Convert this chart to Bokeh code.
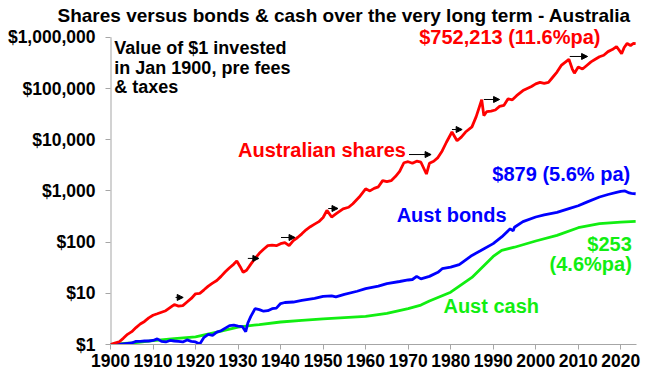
from bokeh.plotting import figure
from bokeh.models import (ColumnDataSource, Label, Arrow, NormalHead, FixedTicker,
                          NumeralTickFormatter, Range1d)
from bokeh.embed import file_html
from bokeh.resources import INLINE

# ---------------- data ----------------
share_years = [1900, 1901, 1902, 1903, 1904, 1905, 1906, 1907, 1908, 1909, 1910, 1911, 1912, 1913,
               1914, 1915, 1916, 1917, 1918, 1919, 1920, 1921, 1922, 1923, 1924, 1925, 1926, 1927,
               1928, 1929, 1929.7, 1930.5, 1931.2, 1932, 1933, 1934, 1935, 1936, 1937, 1938, 1939,
               1940, 1941, 1942, 1942.5, 1943, 1944, 1945, 1946, 1947, 1948, 1949, 1950, 1950.9,
               1952, 1953, 1954.7, 1956, 1957, 1958.5, 1960, 1961, 1962, 1963, 1964, 1965, 1966,
               1967, 1968, 1969, 1970, 1971, 1972, 1973, 1974.3, 1975, 1976, 1977, 1978, 1979,
               1980.3, 1981.5, 1982.5, 1983.5, 1985, 1986, 1987.3, 1987.8, 1988.5, 1989.5, 1990.5,
               1991.5, 1992.5, 1993.5, 1994.5, 1995.5, 1997, 1998, 1999, 2000, 2001, 2002, 2003,
               2004, 2005, 2006, 2007.8, 2008.6, 2009.1, 2010, 2011, 2012, 2013, 2014, 2015, 2016,
               2017, 2018, 2019, 2020.2, 2020.8, 2021.5, 2022.3, 2023, 2023.5]
share_values = [1.0, 1.07, 1.12, 1.32, 1.58, 1.78, 2.14, 2.51, 2.82, 3.31, 3.72, 3.98, 4.27, 4.57,
                5.25, 6.03, 5.62, 5.75, 6.76, 7.94, 9.77, 10.0, 11.7, 13.8, 15.8, 17.8, 21.4, 26.3,
                31.6, 37.2, 42.7, 33.1, 25.7, 28.2, 37.2, 47.9, 60.3, 72.4, 85.1, 87.1, 85.1,
                93.3, 97.7, 85.1, 95.5, 107, 123, 145, 174, 200, 224, 251, 302, 417,
                309, 355, 447, 479, 562, 759, 1096, 1000, 1122, 1202, 1585, 1514, 1585,
                1905, 2399, 3548, 3715, 3467, 3802, 3631, 2138, 3467, 3802, 4467, 6026, 8913,
                14125, 9550, 11220, 14125, 17783, 28184, 60256, 29512, 35481, 36308, 38019,
                44668, 46774, 63096, 60256, 72444, 91201, 100000, 109648, 123027, 131826, 125893, 131826,
                165959, 208930, 281838, 371535, 239883, 199526, 263027, 239883, 281838, 331131, 371535,
                416869, 446684, 524807, 575440, 660693, 478630, 630957, 758578, 691831, 758578, 752213]

bond_years = [1900, 1902, 1904, 1905, 1906, 1907, 1908, 1909, 1910, 1911, 1912, 1913, 1914, 1915,
              1916, 1917, 1918, 1919, 1920, 1921, 1922, 1923, 1924, 1925, 1926, 1927, 1928, 1929,
              1930, 1931, 1931.8, 1932.3, 1933, 1934, 1935, 1936, 1937, 1938, 1939, 1940, 1941,
              1943, 1945, 1948, 1950, 1952, 1953, 1955, 1958, 1960, 1963, 1965, 1968, 1970, 1971,
              1972, 1973, 1975, 1977, 1978, 1980, 1982, 1983, 1985, 1987, 1990, 1992, 1994, 1994.7,
              1995, 1997, 2000, 2002, 2005, 2008, 2010, 2012, 2015, 2017, 2019, 2020, 2021, 2022,
              2022.5, 2023.5]
bond_values = [1.0, 1.0, 1.05, 1.07, 1.15, 1.15, 1.17, 1.17, 1.2, 1.29, 1.15, 1.12, 1.2, 1.17,
               1.15, 1.12, 1.23, 1.15, 1.12, 1.02, 1.38, 1.58, 1.51, 1.74, 1.86, 2.09, 2.34, 2.4,
               2.29, 2.24, 1.78, 2.63, 3.55, 5.01, 4.79, 4.47, 4.57, 5.01, 5.13, 6.31, 6.61,
               6.76, 7.24, 7.94, 8.71, 8.91, 8.51, 9.55, 10.96, 12.3, 13.8, 15.5, 17.0, 18.2, 18.6,
               21.4, 19.1, 21.4, 25.7, 30.2, 32.4, 36.3, 41.7, 55.0, 67.6, 93.3, 126, 182, 166,
               195, 251, 309, 339, 380, 457, 513, 603, 759, 851, 933, 977, 1000, 912,
               891, 879]

cash_years = [1900, 1905, 1910, 1915, 1920, 1925, 1930, 1935, 1940, 1945, 1950, 1955, 1960, 1965,
              1970, 1973, 1975, 1980, 1985, 1990, 1992, 1995, 2000, 2005, 2010, 2015, 2020, 2023.5]
cash_values = [1.0, 1.07, 1.19, 1.3, 1.41, 1.74, 2.19, 2.45, 2.75, 2.95, 3.16, 3.35, 3.55, 4.07,
               5.01, 5.9, 7.08, 10.5, 20.4, 52.5, 69.2, 79.4, 105, 135, 191, 229, 245, 253]

# flat-period arrows: start year, end year, level
arrow_start = [1915.3, 1932.3, 1940.1, 1951.2, 1970.2, 1980.3, 1987.8, 2008.0]
arrow_end = [1917.1, 1934.9, 1943.4, 1953.5, 1975.4, 1982.7, 1991.5, 2012.2]
arrow_level = [8.3, 48, 123, 453, 5130, 15800, 61000, 422000]

year_ticks = [1900, 1910, 1920, 1930, 1940, 1950, 1960, 1970, 1980, 1990, 2000, 2010, 2020]
value_ticks = [1, 10, 100, 1000, 10000, 100000, 1000000]

TITLE = "Shares versus bonds & cash over the very long term - Australia"
RED = "#FF0000"
BLUE = "#0000FF"
GREEN = "#11EE11"
AXIS_GRAY = "#A6A6A6"
FONT = "Liberation Sans"

X0, X1 = 1900, 2023.7
Y_BOTTOM, Y_AXIS_TOP = 1, 1000000
TOP = 26  # frame top in pixels

p = figure(width=652, height=373, y_axis_type="log", output_backend="svg",
           toolbar_location=None, x_range=Range1d(X0, X1),
           y_range=Range1d(Y_BOTTOM, 10 ** ((344 - TOP) / 51.2)),
           min_border_left=110, min_border_right=16, min_border_top=TOP, min_border_bottom=29)
p.title.text = TITLE
p.title.text_font = FONT
p.title.text_font_style = "bold"
p.title.text_font_size = "19px"
p.title.text_color = "#000000"
p.title.align = "left"
p.title.offset = -53
p.title.standoff = 1
p.outline_line_color = None
p.xgrid.grid_line_color = None
p.ygrid.grid_line_color = None
p.background_fill_color = "white"
p.border_fill_color = "white"

for ax in (p.xaxis[0], p.yaxis[0]):
    ax.axis_line_color = AXIS_GRAY
    ax.major_tick_line_color = AXIS_GRAY
    ax.minor_tick_line_color = None
    ax.major_tick_in = 0
    ax.major_tick_out = 5
    ax.major_label_text_font = FONT
    ax.major_label_text_font_style = "bold"
    ax.major_label_text_font_size = "17.5px"
    ax.major_label_text_color = "#000000"

p.xaxis[0].ticker = FixedTicker(ticks=year_ticks)
p.xaxis[0].major_label_standoff = 4
p.yaxis[0].ticker = FixedTicker(ticks=value_ticks)
p.yaxis[0].formatter = NumeralTickFormatter(format="$0,0")
p.yaxis[0].major_label_standoff = 10
p.yaxis[0].axis_line_color = None
# visible part of the value axis: from $1 to $1,000,000 only
p.line([X0, X0], [Y_BOTTOM, Y_AXIS_TOP], line_color=AXIS_GRAY, line_width=2)

p.line(cash_years, cash_values, line_color=GREEN, line_width=2.8)
p.line(bond_years, bond_values, line_color=BLUE, line_width=2.8)
p.line(share_years, share_values, line_color=RED, line_width=2.8)

asrc = ColumnDataSource(dict(x0=arrow_start, x1=arrow_end, y=arrow_level))
p.add_layout(Arrow(source=asrc, x_start="x0", y_start="y", x_end="x1", y_end="y",
                   line_color="black", line_width=1,
                   end=NormalHead(size=6, fill_color="black", line_color="black")))

def lab(text, x, y, color, size="20px", align="left", baseline="middle"):
    p.add_layout(Label(x=x, y=y, text=text, text_color=color, text_font=FONT,
                       text_font_style="bold", text_font_size=size,
                       text_align=align, text_baseline=baseline))

lab("Value of $1 invested", 1900.9, 10 ** 5.80, "#000000", size="18px")
lab("in Jan 1900, pre fees", 1900.9, 10 ** 5.41, "#000000", size="18px")
lab("& taxes", 1900.9, 10 ** 5.02, "#000000", size="18px")
lab("$752,213 (11.6%pa)", 1972.6, 10 ** 6.01, RED)
lab("Australian shares", 1930.0, 10 ** 3.79, RED)
lab("$879 (5.6% pa)", 1989.8, 10 ** 3.33, BLUE)
lab("Aust bonds", 1967.3, 10 ** 2.52, BLUE)
lab("$253", 2022.6, 10 ** 1.971, GREEN, align="right")
lab("(4.6%pa)", 2022.6, 10 ** 1.58, GREEN, align="right")
lab("Aust cash", 1978.3, 10 ** 0.75, GREEN)

open("out.html", "w").write(file_html(p, INLINE))
